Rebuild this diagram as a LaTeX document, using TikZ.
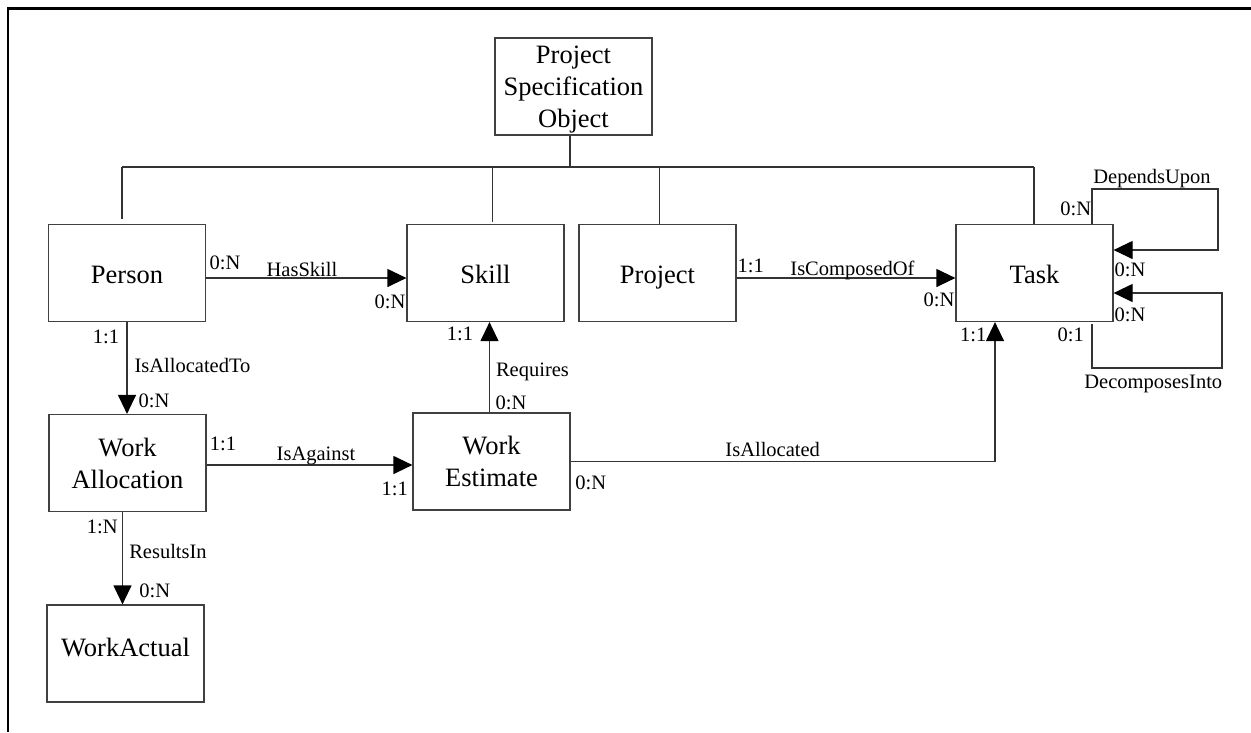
\documentclass[tikz,border=0pt]{standalone}
\usepackage{fontspec}
\setmainfont{Liberation Serif}
\usetikzlibrary{arrows.meta,calc}
\begin{document}
\begin{tikzpicture}[x=1pt,y=-1pt,
  ent/.style={draw=black!75,line width=1.2pt,minimum width=157pt,minimum height=97pt,inner sep=0pt,align=center,font=\fontsize{26.5pt}{32pt}\selectfont},
  single/.style={text height=21pt,text depth=0pt},
  conn/.style={draw=black!80,line width=1.2pt},
  arr/.style={conn,-{Triangle[length=19pt,width=18pt,color=black]}},
  lab/.style={font=\fontsize{20.5pt}{24pt}\selectfont,anchor=base,inner sep=0pt},
]
\useasboundingbox (0,0) rectangle (1251,732);
\draw[line width=2.5pt] (1251,8.5) -- (8,8.5) -- (8,732);

% entities
\node[ent,text depth=0pt] (pso) at (573.5,86.5) {Project\\Specification\\Object};
\node[ent,single] (person) at (127,273) {Person};
\node[ent,single] (skill) at (485.5,273) {Skill};
\node[ent,single] (project) at (657.5,273) {Project};
\node[ent,single] (task) at (1034.5,273) {Task};
\node[ent] (walloc) at (127.5,463) {Work\\Allocation};
\node[ent] (west) at (491.5,461.5) {Work\\Estimate};
\node[ent,text height=21pt,text depth=16pt] (wact) at (125.5,653.5) {WorkActual};

% inheritance tree
\coordinate (busL) at (122,167);
\coordinate (busR) at (1034,167);
\coordinate (bS) at (492.7,167);
\coordinate (bP) at (659.3,167);
\draw[conn] ([xshift=-3.5pt]pso.south) -- ([xshift=-3.5pt]pso.south |- busL);
\draw[conn] (busL) -- (busR);
\draw[conn] (busL) -- ($(busL |- person.north)+(0,-5)$);
\draw[conn] (bS) -- ($(bS |- skill.north)+(0,-2)$);
\draw[conn] (bP) -- (bP |- project.north);
\draw[conn] (busR) -- (busR |- task.north);

% relationships
\draw[arr] ([yshift=-5pt]person.east) -- ([yshift=-5pt]skill.west);
\draw[arr] ([yshift=-5pt]project.east) -- ([yshift=-5pt]task.west);
\draw[arr] (person.south) -- (person.south |- walloc.north);
\draw[arr] ([yshift=-2pt]walloc.east) -- ([yshift=-2pt]walloc.east -| west.west);
\draw[arr] ([xshift=-2pt]west.north) -- ([xshift=-2pt]west.north |- skill.south);
\coordinate (ia) at (995,461.5);
\draw[arr] (west.east) -- (ia) -- (ia |- task.south);
\draw[arr] ([xshift=-5pt]walloc.south) -- ([xshift=-5pt]walloc.south |- wact.north);

% self loops
\coordinate (du1) at (1092,189);
\coordinate (du2) at (1218,250);
\draw[arr] (task.north -| du1) -- (du1) -- (du1 -| du2) -- (du2) -- (du2 -| task.east);
\coordinate (dc1) at (1092,368);
\coordinate (dc2) at (1222,293);
\draw[arr] ($(task.south -| dc1)+(0,2)$) -- (dc1) -- (dc1 -| dc2) -- (dc2) -- (dc2 -| task.east);

% labels
\node[lab] (l1) at (225,269.3) {0:N};
\node[lab] (l2) at (302,276) {HasSkill};
\node[lab] (l3) at (390,308) {0:N};
\node[lab] (l4) at (750.8,272.3) {1:1};
\node[lab] (l5) at (852.5,275) {IsComposedOf};
\node[lab] (l6) at (939,306.7) {0:N};
\node[lab] (l7) at (106,343) {1:1};
\node[lab] (l8) at (192.5,372) {IsAllocatedTo};
\node[lab] (l9) at (154,407) {0:N};
\node[lab] (l10) at (223,450.7) {1:1};
\node[lab] (l11) at (316,460.7) {IsAgainst};
\node[lab] (l12) at (394.7,495) {1:1};
\node[lab] (l13) at (460,340) {1:1};
\node[lab] (l14) at (532.5,376.7) {Requires};
\node[lab] (l15) at (511,409) {0:N};
\node[lab] (l16) at (772.7,456.7) {IsAllocated};
\node[lab] (l17) at (590.8,489) {0:N};
\node[lab] (l18) at (973.3,341.7) {1:1};
\node[lab] (l19) at (102.3,533) {1:N};
\node[lab] (l20) at (168,558) {ResultsIn};
\node[lab] (l21) at (154.7,597) {0:N};
\node[lab] (l22) at (1152,183.3) {DependsUpon};
\node[lab] (l23) at (1075.8,215) {0:N};
\node[lab] (l24) at (1130,276.7) {0:N};
\node[lab] (l25) at (1153.3,388.3) {DecomposesInto};
\node[lab] (l26) at (1130,321.7) {0:N};
\node[lab] (l27) at (1070.8,341.7) {0:1};
\end{tikzpicture}
\end{document}
